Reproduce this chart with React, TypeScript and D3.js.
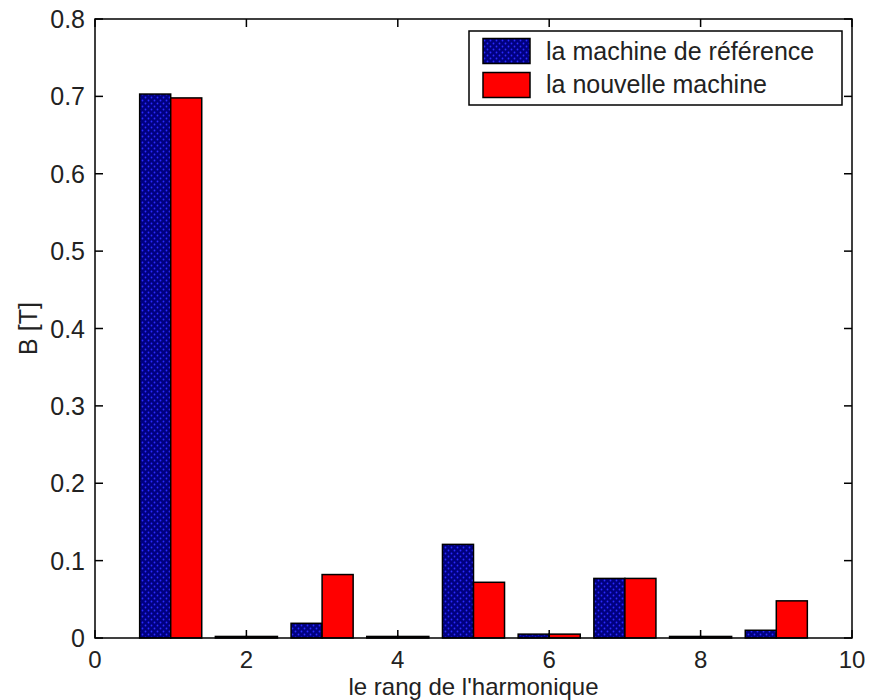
import { useRef, useEffect } from "react";
import * as d3 from "d3";

const harmonics = [1, 2, 3, 4, 5, 6, 7, 8, 9];
const reference = [0.703, 0.002, 0.019, 0.002, 0.121, 0.005, 0.077, 0.002, 0.010];
const nouvelle = [0.698, 0.002, 0.082, 0.002, 0.072, 0.005, 0.077, 0.002, 0.048];
const seriesNames = ["la machine de référence", "la nouvelle machine"];
const xTicks = [0, 2, 4, 6, 8, 10];
const yTicks = [0, 0.1, 0.2, 0.3, 0.4, 0.5, 0.6, 0.7, 0.8];

const FONT = "'Liberation Sans', Arial, sans-serif";
const TEXT = "#222";

export default function App() {
  const ref = useRef<SVGSVGElement>(null);

  useEffect(() => {
    if (!ref.current) return;
    const W = 869, H = 700;
    const left = 95, right = 852, top = 19, bottom = 638;

    const svg = d3.select(ref.current);
    svg.selectAll("*").remove();

    // dotted navy fill like the matlab bar shading
    const defs = svg.append("defs");
    const pat = defs.append("pattern").attr("id", "navy").attr("width", 6).attr("height", 6).attr("patternUnits", "userSpaceOnUse");
    pat.append("rect").attr("width", 6).attr("height", 6).attr("fill", "#000080");
    pat.append("circle").attr("cx", 1.5).attr("cy", 1.5).attr("r", 0.9).attr("fill", "#2a2aff");
    pat.append("circle").attr("cx", 4.5).attr("cy", 4.5).attr("r", 0.9).attr("fill", "#2a2aff");

    svg.append("rect").attr("width", W).attr("height", H).attr("fill", "#fff");

    const x = d3.scaleLinear().domain([0, 10]).range([left, right]);
    const y = d3.scaleLinear().domain([0, 0.8]).range([bottom, top]);
    const bw = 0.41;

    const fills = ["url(#navy)", "#ff0000"];
    [reference, nouvelle].forEach((vals, si) => {
      svg.append("g").selectAll("rect").data(vals).join("rect")
        .attr("x", (_, i) => x(harmonics[i] - bw + si * bw))
        .attr("width", x(bw) - x(0))
        .attr("y", (d) => y(d))
        .attr("height", (d) => y(0) - y(d))
        .attr("fill", fills[si])
        .attr("stroke", "#000").attr("stroke-width", 1.5);
    });

    // box + inward ticks
    svg.append("rect").attr("x", left).attr("y", top).attr("width", right - left).attr("height", bottom - top)
      .attr("fill", "none").attr("stroke", "#000").attr("stroke-width", 1.5);
    const tl = 8;
    xTicks.forEach((t) => {
      svg.append("line").attr("x1", x(t)).attr("x2", x(t)).attr("y1", bottom).attr("y2", bottom - tl).attr("stroke", "#000").attr("stroke-width", 1.5);
      svg.append("line").attr("x1", x(t)).attr("x2", x(t)).attr("y1", top).attr("y2", top + tl).attr("stroke", "#000").attr("stroke-width", 1.5);
      svg.append("text").attr("x", x(t)).attr("y", 668).attr("text-anchor", "middle")
        .attr("font-family", FONT).attr("font-size", 24).attr("fill", TEXT).text(String(t));
    });
    yTicks.forEach((t) => {
      svg.append("line").attr("x1", left).attr("x2", left + tl).attr("y1", y(t)).attr("y2", y(t)).attr("stroke", "#000").attr("stroke-width", 1.5);
      svg.append("line").attr("x1", right).attr("x2", right - tl).attr("y1", y(t)).attr("y2", y(t)).attr("stroke", "#000").attr("stroke-width", 1.5);
      svg.append("text").attr("x", 85).attr("y", y(t) + 9).attr("text-anchor", "end")
        .attr("font-family", FONT).attr("font-size", 25).attr("fill", TEXT).text(t === 0 ? "0" : t.toFixed(1));
    });

    // axis labels
    svg.append("text").attr("x", (left + right) / 2).attr("y", 695).attr("text-anchor", "middle")
      .attr("font-family", FONT).attr("font-size", 24).attr("fill", TEXT).text("le rang de l'harmonique");
    svg.append("text").attr("transform", `translate(37,${(top + bottom) / 2}) rotate(-90)`).attr("text-anchor", "middle")
      .attr("font-family", FONT).attr("font-size", 25).attr("fill", TEXT).text("B [T]");

    // legend
    const lg = svg.append("g");
    lg.append("rect").attr("x", 469).attr("y", 31).attr("width", 373).attr("height", 74)
      .attr("fill", "#fff").attr("stroke", "#000").attr("stroke-width", 1.5);
    seriesNames.forEach((name, i) => {
      lg.append("rect").attr("x", 483).attr("y", 38.5 + i * 34).attr("width", 47).attr("height", 25)
        .attr("fill", fills[i]).attr("stroke", "#000").attr("stroke-width", 1.5);
      lg.append("text").attr("x", 546).attr("y", 60 + i * 33)
        .attr("font-family", FONT).attr("font-size", 25).attr("fill", TEXT).text(name);
    });
  }, []);

  return <svg ref={ref} width={869} height={700} style={{ position: "absolute", left: 0, top: 0, display: "block" }} />;
}
